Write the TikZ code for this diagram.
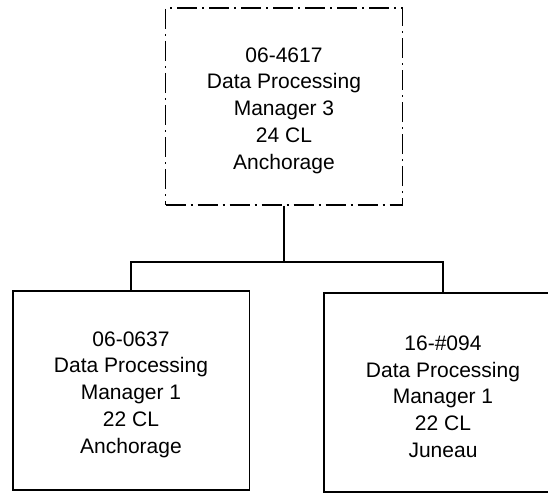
\documentclass[tikz,border=0pt]{standalone}
\usepackage{fontspec}
\setmainfont{Liberation Sans}
\begin{document}
\begin{tikzpicture}[x=1pt,y=1pt,
  posbox/.style={draw=black, line width=1.5pt, fill=white, inner sep=0pt},
  topbox/.style={posbox, line width=1.6pt, dash pattern=on 20pt off 5pt on 2pt off 5pt},
  txt/.style={align=center, inner sep=0pt, font=\fontsize{21}{26.7}\selectfont},
  conn/.style={draw=black, line width=1.5pt}]
\useasboundingbox (0,0) rectangle (548,-492);
\node[topbox, minimum width=237pt, minimum height=197pt] (top) at (284,-106.5) {};
\node[txt] (toptxt) at ([yshift=-4pt]top.center)
  {06-4617\\Data Processing\\Manager 3\\24 CL\\Anchorage};
\node[posbox, minimum width=236.5pt, minimum height=199pt] (left) at (131,-390.5) {};
\node[txt] (lefttxt) at ([yshift=-4pt]left.center)
  {06-0637\\Data Processing\\Manager 1\\22 CL\\Anchorage};
\node[inner sep=0pt, minimum width=238pt, minimum height=199pt] (right) at (443,-392.5) {};
\draw[conn] (right.north east) -- (right.north west) -- (right.south west) -- (right.south east);
\node[txt] (righttxt) at ([yshift=-4pt]right.center)
  {16-\#094\\Data Processing\\Manager 1\\22 CL\\Juneau};
\coordinate (bus) at (284,-262);
\draw[conn] (top.south) -- (bus);
\draw[conn] (left.north) |- (bus) -| (right.north);
\end{tikzpicture}
\end{document}
